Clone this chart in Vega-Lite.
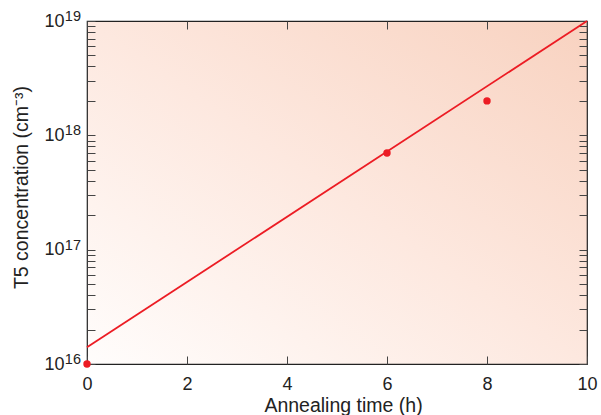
{
  "$schema": "https://vega.github.io/schema/vega-lite/v6.json",
  "width": 500,
  "height": 343,
  "autosize": {"type": "none"},
  "padding": {"left": 87, "top": 21, "right": 14, "bottom": 51},
  "background": "white",
  "config": {
    "view": {
      "stroke": "#222222",
      "strokeWidth": 1.2,
      "fill": {
        "gradient": "linear",
        "x1": 0, "y1": 1, "x2": 1, "y2": 0,
        "stops": [
          {"offset": 0, "color": "#fffdfc"},
          {"offset": 0.5, "color": "#fde8df"},
          {"offset": 1, "color": "#f8d2c0"}
        ]
      }
    },
    "axis": {
      "grid": false,
      "domain": false,
      "tickColor": "#444444",
      "tickSize": -8,
      "tickWidth": 1,
      "labelFont": "Liberation Sans",
      "labelFontSize": 18,
      "labelColor": "#222222",
      "titleFont": "Liberation Sans",
      "titleFontSize": 19.5,
      "titleFontWeight": "normal",
      "titleColor": "#222222"
    }
  },
  "datasets": {
    "fit": [
      {"t": 0, "c": 1.4e16},
      {"t": 10, "c": 1e19}
    ],
    "obs": [
      {"t": 0, "c": 1e16},
      {"t": 6, "c": 7e17},
      {"t": 8, "c": 2e18}
    ],
    "exps": [
      {"c": 1e16, "e": "16"},
      {"c": 1e17, "e": "17"},
      {"c": 1e18, "e": "18"},
      {"c": 1e19, "e": "19"}
    ]
  },
  "layer": [
    {
      "data": {"name": "fit"},
      "mark": {"type": "line", "color": "#ec1c24", "strokeWidth": 1.8},
      "encoding": {
        "x": {
          "field": "t", "type": "quantitative",
          "scale": {"domain": [0, 10]},
          "axis": {"orient": "top", "labels": false, "title": null, "values": [0, 2, 4, 6, 8, 10]}
        },
        "y": {
          "field": "c", "type": "quantitative",
          "scale": {"type": "log", "domain": [1e16, 1e19]},
          "axis": {
            "orient": "right", "labels": false, "title": null,
            "values": [1e16, 2e16, 3e16, 4e16, 5e16, 6e16, 7e16, 8e16, 9e16, 1e17, 2e17, 3e17, 4e17, 5e17, 6e17, 7e17, 8e17, 9e17, 1e18, 2e18, 3e18, 4e18, 5e18, 6e18, 7e18, 8e18, 9e18, 1e19]
          }
        }
      }
    },
    {
      "data": {"name": "obs"},
      "mark": {"type": "circle", "color": "#ec1c24", "size": 55, "opacity": 1},
      "encoding": {
        "x": {
          "field": "t", "type": "quantitative",
          "scale": {"domain": [0, 10]},
          "axis": {
            "orient": "bottom", "title": "Annealing time (h)", "values": [0, 2, 4, 6, 8, 10],
            "labelPadding": 19, "labelFlush": false,
            "titleX": 256, "titleY": 47, "titleBaseline": "alphabetic", "titleAlign": "center"
          }
        },
        "y": {
          "field": "c", "type": "quantitative",
          "scale": {"type": "log", "domain": [1e16, 1e19]},
          "axis": {
            "orient": "left", "title": "T5 concentration (cm⁻³)",
            "values": [1e16, 2e16, 3e16, 4e16, 5e16, 6e16, 7e16, 8e16, 9e16, 1e17, 2e17, 3e17, 4e17, 5e17, 6e17, 7e17, 8e17, 9e17, 1e18, 2e18, 3e18, 4e18, 5e18, 6e18, 7e18, 8e18, 9e18, 1e19],
            "labelExpr": "(datum.value == 1e16 || datum.value == 1e17 || datum.value == 1e18 || datum.value == 1e19) ? '10' : ''",
            "labelOverlap": false, "labelFlush": false, "labelPadding": 31,
            "titleX": -60, "titleY": 166, "titleAngle": -90, "titleBaseline": "alphabetic", "titleAlign": "center"
          }
        }
      }
    },
    {
      "data": {"name": "exps"},
      "mark": {"type": "text", "font": "Liberation Sans", "fontSize": 14.5, "color": "#222222", "align": "right", "baseline": "alphabetic", "dx": -6, "dy": 0, "clip": false},
      "encoding": {
        "x": {"datum": 0, "type": "quantitative", "axis": null},
        "y": {"field": "c", "type": "quantitative", "axis": null},
        "text": {"field": "e"}
      }
    }
  ],
  "resolve": {"axis": {"x": "independent", "y": "independent"}}
}
